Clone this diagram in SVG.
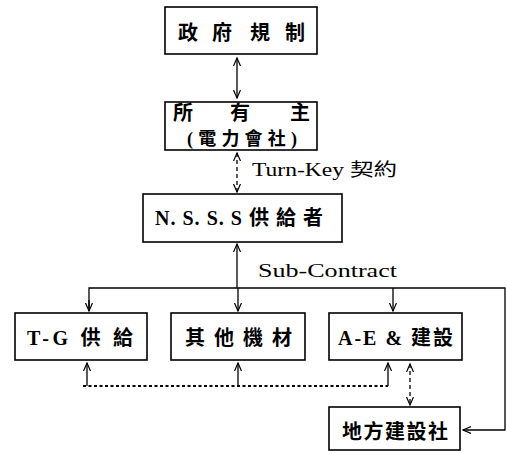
<svg xmlns="http://www.w3.org/2000/svg" width="507" height="454" viewBox="0 0 507 454">
<defs>
<marker id="ah" markerWidth="10" markerHeight="10" refX="8" refY="4" orient="auto-start-reverse" markerUnits="userSpaceOnUse">
<path d="M0,0.5 L8,4 L0,7.5" fill="none" stroke="#000" stroke-width="1.2"/>
</marker>
</defs>
<style>
.box{fill:#fff;stroke:#000;stroke-width:1.6}
.t{font-family:"Liberation Serif","Noto Sans CJK TC",serif;font-size:20px;font-weight:bold;fill:#000}
.c{stroke:#000;stroke-width:1.3;fill:none}
.dash{stroke-dasharray:4,3}
.dot{stroke-dasharray:3,2.5;stroke-width:2}
.lbl{font-family:"Liberation Serif","Noto Sans CJK TC",serif;font-size:18px;fill:#000}
</style>
<rect width="507" height="454" fill="#fff"/>
<g id="connectors">
<line class="c" x1="237" y1="58" x2="237" y2="98" marker-start="url(#ah)" marker-end="url(#ah)"/>
<line class="c dash" x1="237" y1="153" x2="237" y2="192" marker-start="url(#ah)" marker-end="url(#ah)"/>
<line class="c" x1="237" y1="244" x2="237" y2="288" marker-start="url(#ah)"/>
<polyline class="c" points="89,311 89,288 505,288 505,430 463,430" marker-end="url(#ah)"/>
<line class="c" x1="89" y1="300" x2="89" y2="311" marker-end="url(#ah)"/>
<line class="c" x1="238" y1="288" x2="238" y2="311" marker-end="url(#ah)"/>
<line class="c" x1="393" y1="288" x2="393" y2="311" marker-end="url(#ah)"/>
<line class="c dot" x1="83" y1="386" x2="388" y2="386"/>
<line class="c" x1="87" y1="386" x2="87" y2="363" marker-end="url(#ah)"/>
<line class="c" x1="238" y1="386" x2="238" y2="363" marker-end="url(#ah)"/>
<line class="c" x1="388" y1="386" x2="388" y2="363" marker-end="url(#ah)"/>
<line class="c dash" x1="410" y1="364" x2="410" y2="405" marker-start="url(#ah)" marker-end="url(#ah)"/>
<text class="lbl" x="252" y="176" textLength="145" lengthAdjust="spacingAndGlyphs">Turn-Key 契約</text>
<text class="lbl" x="258" y="277" textLength="139" lengthAdjust="spacingAndGlyphs">Sub-Contract</text>
</g>
<g id="gov">
<rect class="box" x="165" y="7" width="152" height="47"/>
<text class="t" x="178 212 250 285" y="40">政府規制</text>
</g>
<g id="owner">
<rect class="box" x="165" y="102" width="152" height="48"/>
<text class="t" x="173 230 290" y="120">所有主</text>
<text class="t" x="187" y="145" style="font-size:18px" textLength="110" lengthAdjust="spacing">(電力會社)</text>
</g>
<g id="nsss">
<rect class="box" x="143" y="194" width="199" height="48"/>
<text class="t" x="155" y="225" textLength="168" lengthAdjust="spacing">N. S. S. S 供 給 者</text>
</g>
<g id="tg">
<rect class="box" x="15" y="313" width="132" height="47"/>
<text class="t" x="27" y="345" textLength="106" lengthAdjust="spacing">T-G 供 給</text>
</g>
<g id="other">
<rect class="box" x="171" y="313" width="134" height="47"/>
<text class="t" x="185" y="345" textLength="107" lengthAdjust="spacing">其 他 機 材</text>
</g>
<g id="ae">
<rect class="box" x="329" y="313" width="133" height="47"/>
<text class="t" x="338" y="345" textLength="115" lengthAdjust="spacing">A-E &amp; 建設</text>
</g>
<g id="local">
<rect class="box" x="329" y="407" width="131" height="43"/>
<text class="t" x="342" y="439" textLength="106" lengthAdjust="spacing">地方建設社</text>
</g>
</svg>
